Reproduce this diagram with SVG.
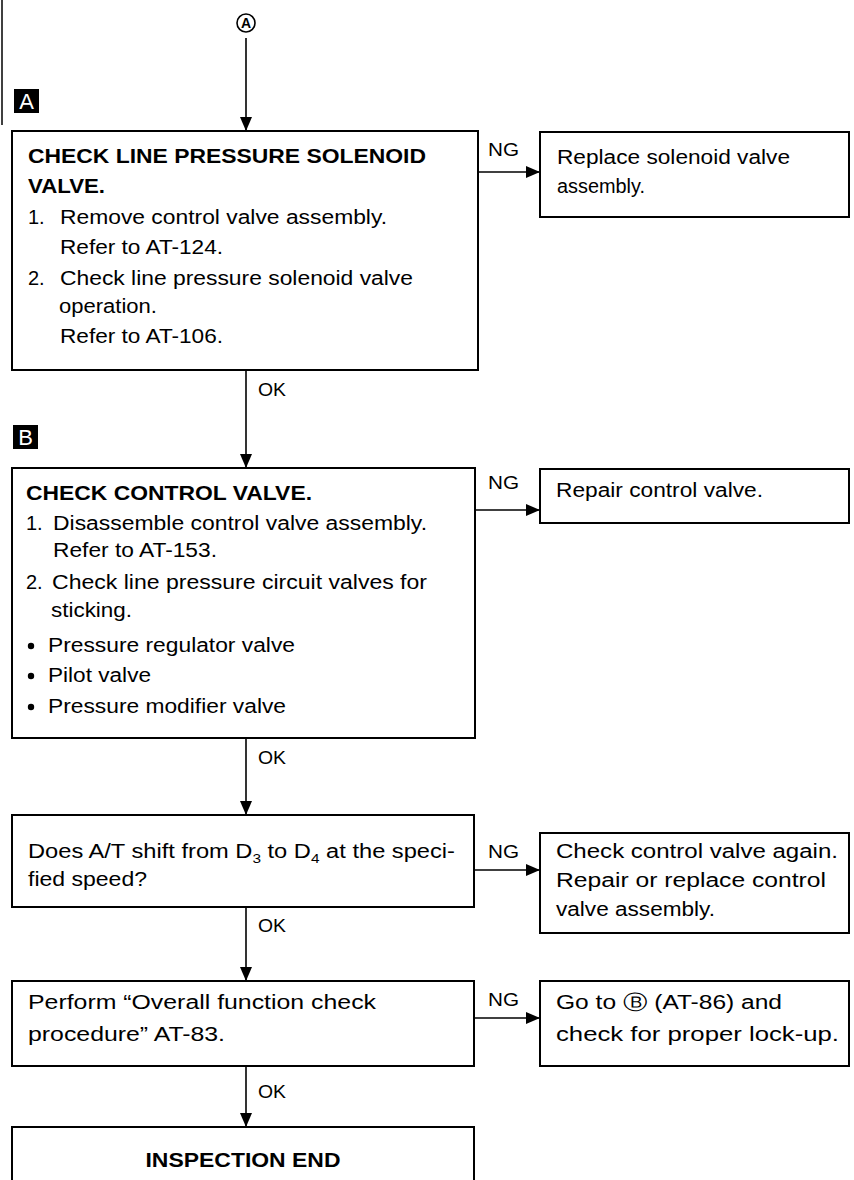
<svg xmlns="http://www.w3.org/2000/svg" width="854" height="1180" viewBox="0 0 854 1180">
<style>
.box{fill:#fff;stroke:#000;stroke-width:2}
.t{font-family:"Liberation Sans",Arial,sans-serif;font-size:20px;fill:#000}
.b{font-weight:bold}
.lbl{font-family:"Liberation Sans",Arial,sans-serif;font-size:19px;fill:#000}
.conn{stroke:#000;stroke-width:1.6;fill:none}
.tag{fill:#000}
.tagt{font-family:"Liberation Sans",Arial,sans-serif;font-size:22px;fill:#fff;text-anchor:middle}
</style>
<defs>
<marker id="ah" viewBox="0 0 14 12" refX="14" refY="6" markerWidth="14" markerHeight="12" markerUnits="userSpaceOnUse" orient="auto">
<path d="M0,0 L14,6 L0,12 Z" fill="#000"/>
</marker>
</defs>
<rect width="854" height="1180" fill="#fff"/>
<line x1="2" y1="0" x2="2" y2="125" stroke="#000" stroke-width="1.5"/>

<g id="connectors">
<circle cx="246" cy="23" r="9" fill="#fff" stroke="#000" stroke-width="1.6"/>
<text x="246" y="28" font-family="Liberation Sans,Arial,sans-serif" font-size="14" font-weight="bold" text-anchor="middle">A</text>
<line class="conn" x1="246" y1="38" x2="246" y2="131" marker-end="url(#ah)"/>
<line class="conn" x1="246" y1="370" x2="246" y2="468" marker-end="url(#ah)"/>
<line class="conn" x1="246" y1="738" x2="246" y2="815" marker-end="url(#ah)"/>
<line class="conn" x1="246" y1="907" x2="246" y2="981" marker-end="url(#ah)"/>
<line class="conn" x1="246" y1="1066" x2="246" y2="1127" marker-end="url(#ah)"/>
<line class="conn" x1="478" y1="172" x2="540" y2="172" marker-end="url(#ah)"/>
<line class="conn" x1="475" y1="510" x2="540" y2="510" marker-end="url(#ah)"/>
<line class="conn" x1="474" y1="870" x2="540" y2="870" marker-end="url(#ah)"/>
<line class="conn" x1="474" y1="1018" x2="540" y2="1018" marker-end="url(#ah)"/>
<text class="lbl" x="258" y="396" textLength="28" lengthAdjust="spacingAndGlyphs">OK</text>
<text class="lbl" x="258" y="764" textLength="28" lengthAdjust="spacingAndGlyphs">OK</text>
<text class="lbl" x="258" y="932" textLength="28" lengthAdjust="spacingAndGlyphs">OK</text>
<text class="lbl" x="258" y="1098" textLength="28" lengthAdjust="spacingAndGlyphs">OK</text>
<text class="lbl" x="488" y="156" textLength="31" lengthAdjust="spacingAndGlyphs">NG</text>
<text class="lbl" x="488" y="489" textLength="31" lengthAdjust="spacingAndGlyphs">NG</text>
<text class="lbl" x="488" y="858" textLength="31" lengthAdjust="spacingAndGlyphs">NG</text>
<text class="lbl" x="488" y="1006" textLength="31" lengthAdjust="spacingAndGlyphs">NG</text>
</g>

<g id="tagA">
<rect class="tag" x="14" y="89" width="25" height="24"/>
<text class="tagt" x="26.5" y="109">A</text>
</g>
<g id="tagB">
<rect class="tag" x="13" y="425" width="25" height="24"/>
<text class="tagt" x="25.5" y="445">B</text>
</g>

<g id="n1">
<rect class="box" x="12" y="131" width="466" height="239"/>
<text class="t b" x="28" y="163" textLength="398" lengthAdjust="spacingAndGlyphs">CHECK LINE PRESSURE SOLENOID</text>
<text class="t b" x="28" y="193" textLength="77" lengthAdjust="spacingAndGlyphs">VALVE.</text>
<text class="t" x="28" y="224">1.</text>
<text class="t" x="60" y="224" textLength="327" lengthAdjust="spacingAndGlyphs">Remove control valve assembly.</text>
<text class="t" x="60" y="254" textLength="163" lengthAdjust="spacingAndGlyphs">Refer to AT-124.</text>
<text class="t" x="28" y="285">2.</text>
<text class="t" x="60" y="285" textLength="353" lengthAdjust="spacingAndGlyphs">Check line pressure solenoid valve</text>
<text class="t" x="59" y="313" textLength="98" lengthAdjust="spacingAndGlyphs">operation.</text>
<text class="t" x="60" y="343" textLength="163" lengthAdjust="spacingAndGlyphs">Refer to AT-106.</text>
</g>

<g id="n1ng">
<rect class="box" x="540" y="132" width="309" height="85"/>
<text class="t" x="557" y="164" textLength="233" lengthAdjust="spacingAndGlyphs">Replace solenoid valve</text>
<text class="t" x="557" y="193" textLength="88" lengthAdjust="spacingAndGlyphs">assembly.</text>
</g>

<g id="n2">
<rect class="box" x="12" y="468" width="463" height="270"/>
<text class="t b" x="26" y="500" textLength="286" lengthAdjust="spacingAndGlyphs">CHECK CONTROL VALVE.</text>
<text class="t" x="26" y="530">1.</text>
<text class="t" x="53" y="530" textLength="374" lengthAdjust="spacingAndGlyphs">Disassemble control valve assembly.</text>
<text class="t" x="53" y="557" textLength="164" lengthAdjust="spacingAndGlyphs">Refer to AT-153.</text>
<text class="t" x="26" y="589">2.</text>
<text class="t" x="52" y="589" textLength="375" lengthAdjust="spacingAndGlyphs">Check line pressure circuit valves for</text>
<text class="t" x="51" y="617" textLength="81" lengthAdjust="spacingAndGlyphs">sticking.</text>
<circle cx="31" cy="646" r="3.2"/>
<text class="t" x="48" y="652" textLength="247" lengthAdjust="spacingAndGlyphs">Pressure regulator valve</text>
<circle cx="31" cy="676" r="3.2"/>
<text class="t" x="48" y="682" textLength="103" lengthAdjust="spacingAndGlyphs">Pilot valve</text>
<circle cx="31" cy="707" r="3.2"/>
<text class="t" x="48" y="713" textLength="238" lengthAdjust="spacingAndGlyphs">Pressure modifier valve</text>
</g>

<g id="n2ng">
<rect class="box" x="540" y="469" width="309" height="54"/>
<text class="t" x="556" y="497" textLength="207" lengthAdjust="spacingAndGlyphs">Repair control valve.</text>
</g>

<g id="n3">
<rect class="box" x="12" y="815" width="462" height="92"/>
<text class="t" x="28" y="858" textLength="427" lengthAdjust="spacingAndGlyphs">Does A/T shift from D<tspan font-size="13" dy="5">3</tspan><tspan dy="-5"> to D</tspan><tspan font-size="13" dy="5">4</tspan><tspan dy="-5"> at the speci-</tspan></text>
<text class="t" x="28" y="886" textLength="119" lengthAdjust="spacingAndGlyphs">fied speed?</text>
</g>

<g id="n3ng">
<rect class="box" x="540" y="833" width="309" height="100"/>
<text class="t" x="556" y="858" textLength="282" lengthAdjust="spacingAndGlyphs">Check control valve again.</text>
<text class="t" x="556" y="887" textLength="270" lengthAdjust="spacingAndGlyphs">Repair or replace control</text>
<text class="t" x="556" y="916" textLength="159" lengthAdjust="spacingAndGlyphs">valve assembly.</text>
</g>

<g id="n4">
<rect class="box" x="12" y="981" width="462" height="85"/>
<text class="t" x="28" y="1009" textLength="348" lengthAdjust="spacingAndGlyphs">Perform “Overall function check</text>
<text class="t" x="28" y="1041" textLength="197" lengthAdjust="spacingAndGlyphs">procedure” AT-83.</text>
</g>

<g id="n4ng">
<rect class="box" x="540" y="981" width="309" height="85"/>
<text class="t" x="556" y="1009" textLength="226" lengthAdjust="spacingAndGlyphs">Go to Ⓑ (AT-86) and</text>
<text class="t" x="556" y="1041" textLength="283" lengthAdjust="spacingAndGlyphs">check for proper lock-up.</text>
</g>

<g id="n5">
<rect class="box" x="12" y="1127" width="462" height="70"/>
<text class="t b" x="243" y="1167" text-anchor="middle" textLength="195" lengthAdjust="spacingAndGlyphs">INSPECTION END</text>
</g>
</svg>
